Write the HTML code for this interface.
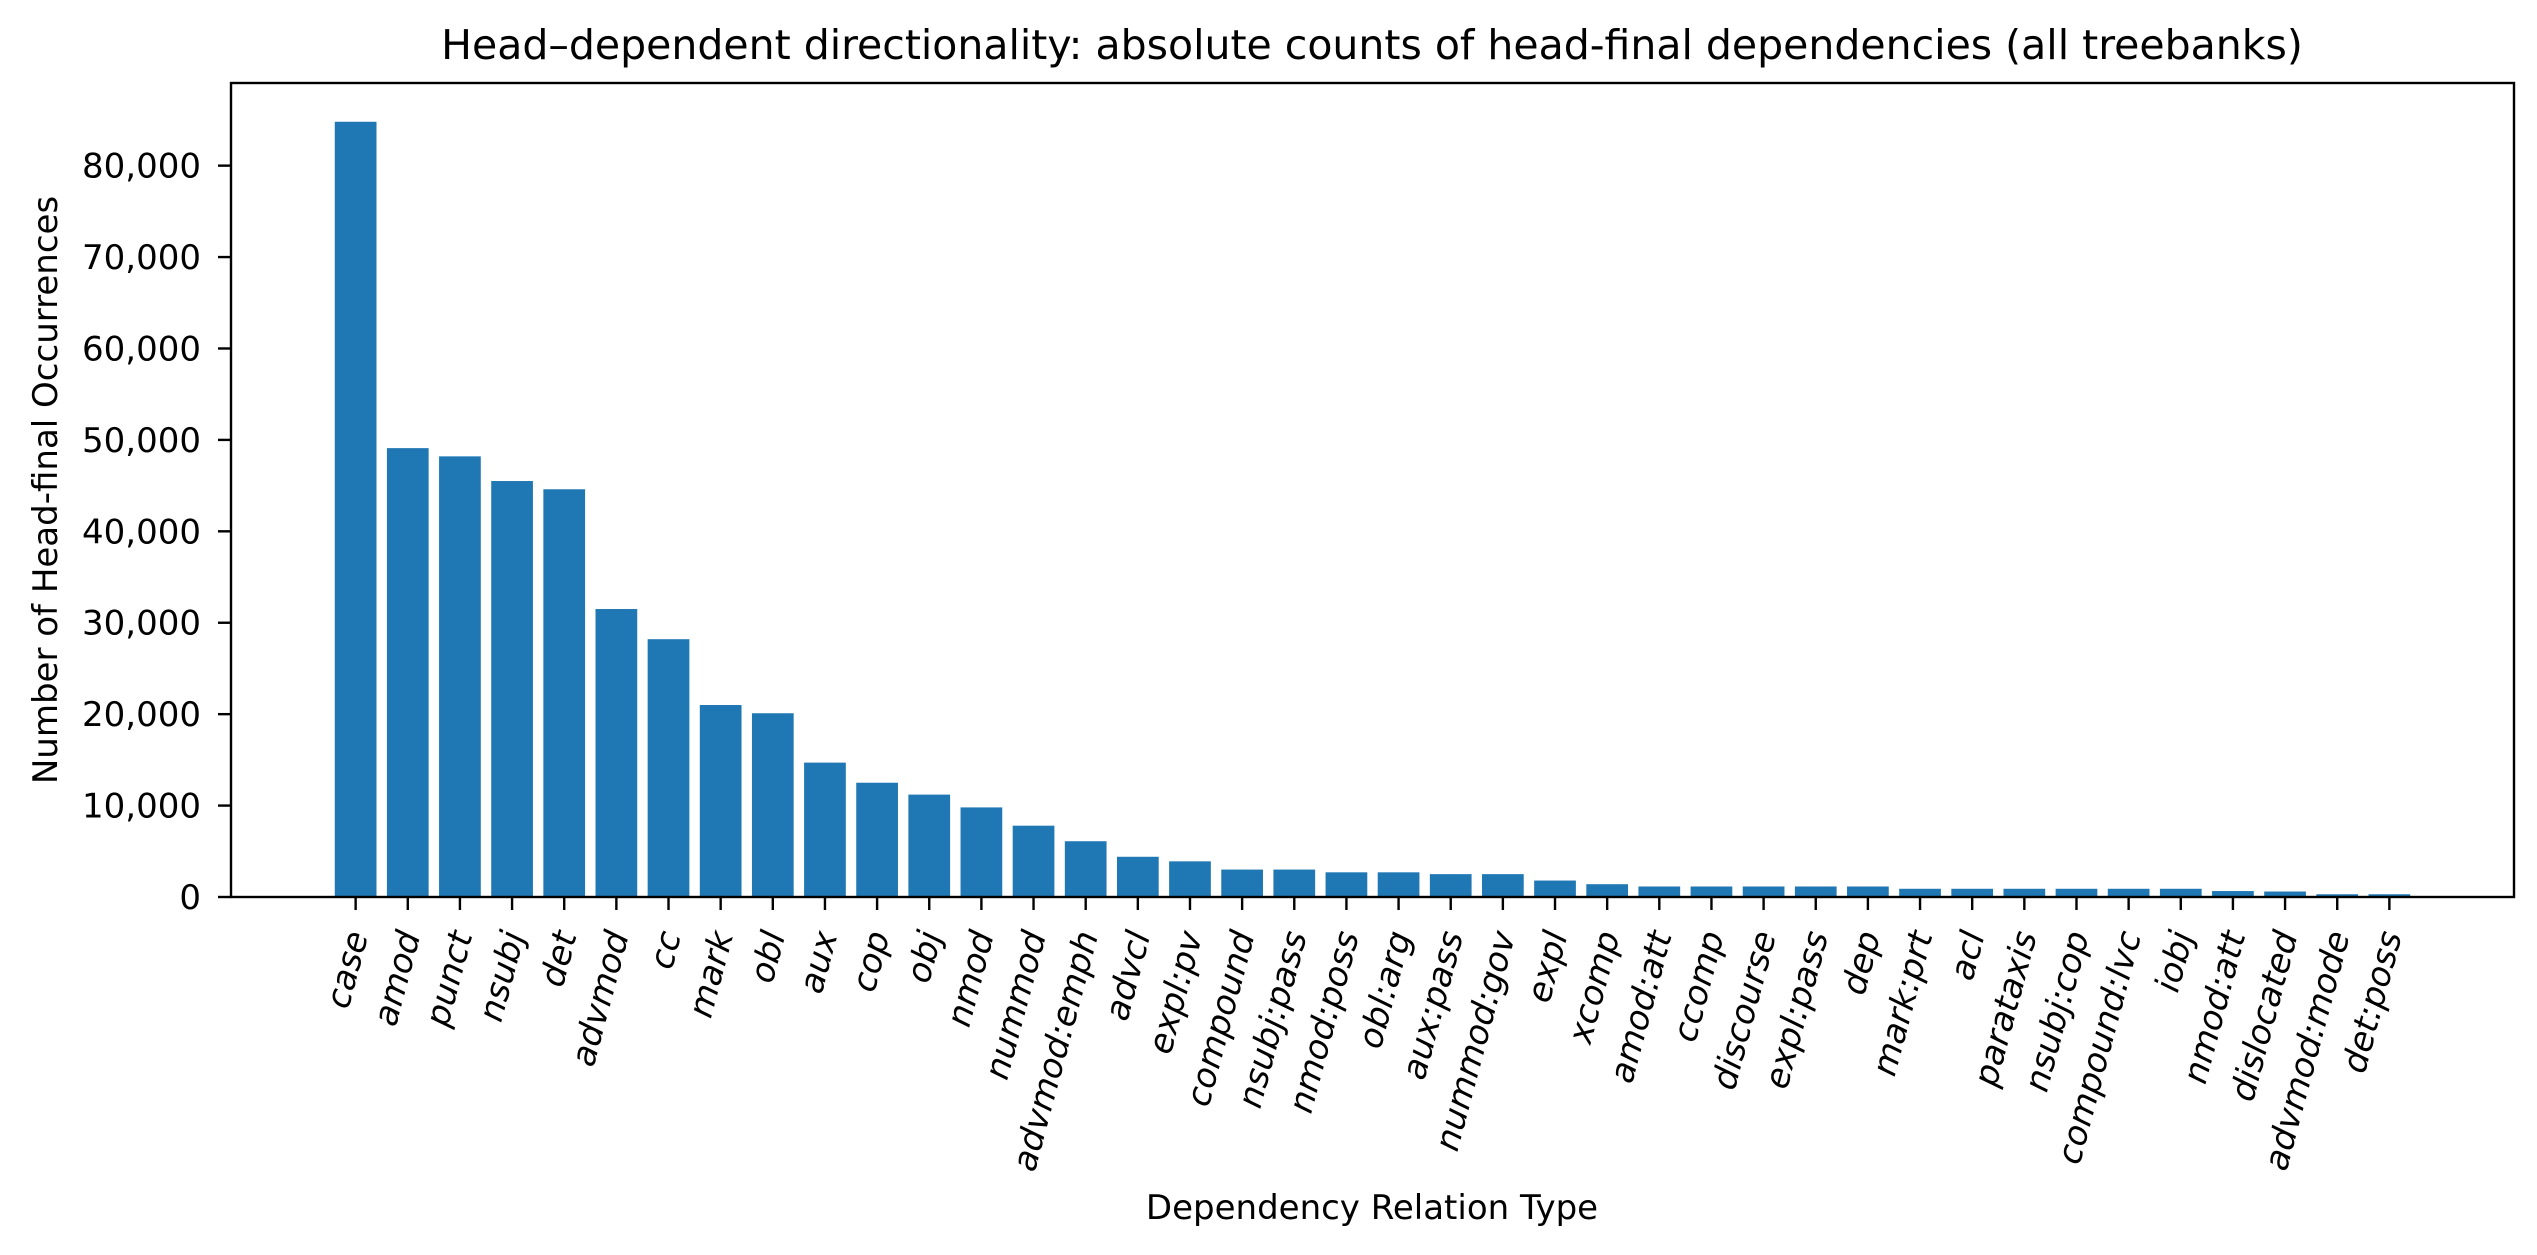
<!DOCTYPE html>
<html><head><meta charset="utf-8"><style>
html,body{margin:0;padding:0;background:#fff;}
svg{display:block;font-family:"DejaVu Sans","Liberation Sans",sans-serif;}
</style></head><body>
<svg id="chart" width="2537" height="1255" viewBox="0 0 2537 1255" xmlns="http://www.w3.org/2000/svg">
<rect width="2537" height="1255" fill="#fff"/>
<text x="1372" y="59" font-size="41" text-anchor="middle" fill="#000">Head–dependent directionality: absolute counts of head-final dependencies (all treebanks)</text>
<text transform="translate(57,490) rotate(-90)" font-size="34" text-anchor="middle" fill="#000">Number of Head-final Occurrences</text>
<text x="1372" y="1219" font-size="34" text-anchor="middle" fill="#000">Dependency Relation Type</text>
<g id="bars"></g>
<g id="yaxis"></g>
<g id="xaxis"></g>
<rect x="231" y="83" width="2283" height="814" fill="none" stroke="#000" stroke-width="2.4"/>
</svg>
<script>
const categories = ["case","amod","punct","nsubj","det","advmod","cc","mark","obl","aux","cop","obj","nmod","nummod","advmod:emph","advcl","expl:pv","compound","nsubj:pass","nmod:poss","obl:arg","aux:pass","nummod:gov","expl","xcomp","amod:att","ccomp","discourse","expl:pass","dep","mark:prt","acl","parataxis","nsubj:cop","compound:lvc","iobj","nmod:att","dislocated","advmod:mode","det:poss"];
const values = [84800,49100,48200,45500,44600,31500,28200,21000,20100,14700,12500,11200,9800,7800,6100,4400,3900,3000,3000,2700,2700,2500,2500,1800,1400,1150,1150,1150,1150,1150,900,900,900,900,900,900,650,600,300,300];
const yTicks = [0,10000,20000,30000,40000,50000,60000,70000,80000];
const yTickLabels = ["0","10,000","20,000","30,000","40,000","50,000","60,000","70,000","80,000"];

const NS = "http://www.w3.org/2000/svg";
const L = 231, R = 2514, T = 83, B = 897;
const n = categories.length;
const xMin = -0.4 - 0.05 * (n - 0.2), xMax = (n - 1) + 0.4 + 0.05 * (n - 0.2);
const yMax = Math.max(...values) * 1.05;
function xScale(i){ return L + (i - xMin) / (xMax - xMin) * (R - L); }
function yScale(v){ return B - v / yMax * (B - T); }
const bw = 0.8 * (R - L) / (xMax - xMin);

const gb = document.getElementById('bars');
const gx = document.getElementById('xaxis');
const gy = document.getElementById('yaxis');
categories.forEach((c, i) => {
  const r = document.createElementNS(NS, 'rect');
  r.setAttribute('x', xScale(i) - bw / 2);
  r.setAttribute('y', yScale(values[i]));
  r.setAttribute('width', bw);
  r.setAttribute('height', B - yScale(values[i]));
  r.setAttribute('fill', '#1f77b4');
  
  
  gb.appendChild(r);
  const t = document.createElementNS(NS, 'line');
  t.setAttribute('x1', xScale(i)); t.setAttribute('x2', xScale(i));
  t.setAttribute('y1', B); t.setAttribute('y2', B + 13);
  t.setAttribute('stroke', '#000'); t.setAttribute('stroke-width', '2.4');
  
  
  gx.appendChild(t);
  const lb = document.createElementNS(NS, 'text');
  const ax = xScale(i) + 2, ay = 932;
  lb.setAttribute('transform', 'translate(' + ax + ',' + ay + ') rotate(-75)');
  lb.setAttribute('text-anchor', 'end');
  lb.setAttribute('dominant-baseline', 'central');
  lb.setAttribute('font-size', '34');
  lb.setAttribute('font-style', 'italic');
  lb.textContent = c;
  
  
  gx.appendChild(lb);
});
yTicks.forEach((v, k) => {
  const y = yScale(v);
  const t = document.createElementNS(NS, 'line');
  t.setAttribute('x1', L - 13); t.setAttribute('x2', L);
  t.setAttribute('y1', y); t.setAttribute('y2', y);
  t.setAttribute('stroke', '#000'); t.setAttribute('stroke-width', '2.4');
  
  
  gy.appendChild(t);
  const lb = document.createElementNS(NS, 'text');
  lb.setAttribute('x', L - 30); lb.setAttribute('y', y + 12);
  lb.setAttribute('text-anchor', 'end');
  lb.setAttribute('font-size', '34');
  lb.textContent = yTickLabels[k];
  
  
  gy.appendChild(lb);
});
</script>
</body></html>
